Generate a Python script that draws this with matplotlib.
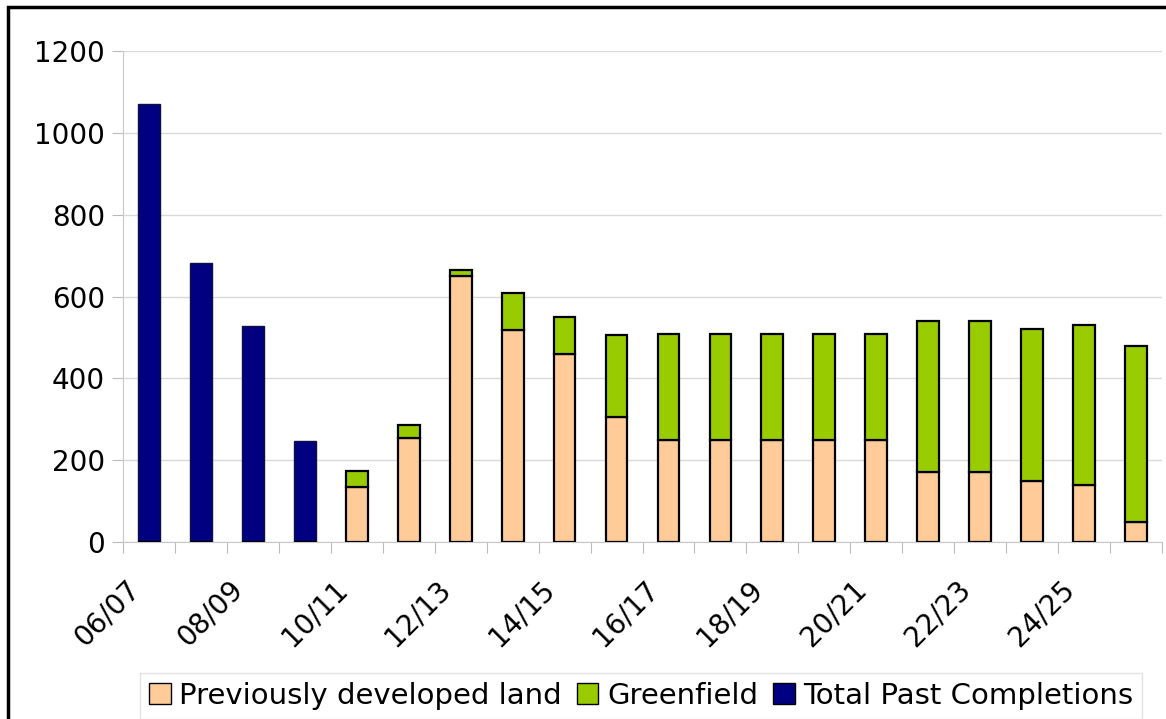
import numpy as np
import matplotlib.pyplot as plt
import matplotlib.transforms as mtransforms
from matplotlib.patches import Patch, Rectangle

# financial years shown on the chart
years = ["06/07", "07/08", "08/09", "09/10", "10/11", "11/12", "12/13", "13/14",
         "14/15", "15/16", "16/17", "17/18", "18/19", "19/20", "20/21", "21/22",
         "22/23", "23/24", "24/25", "25/26"]

# past completions (first four years only)
past_completions = [1070, 682, 528, 246, 0, 0, 0, 0, 0, 0,
                    0, 0, 0, 0, 0, 0, 0, 0, 0, 0]

# projected supply split by land type
previously_developed = [0, 0, 0, 0, 135, 255, 650, 518, 459, 306,
                        250, 250, 250, 250, 250, 170, 170, 150, 140, 50]
greenfield = [0, 0, 0, 0, 39, 32, 15, 90, 90, 199,
              258, 258, 259, 259, 259, 370, 370, 370, 390, 430]

col_pdl = "#FFCC99"
col_green = "#99CC00"
col_navy = "#000080"


def draw_chart():
    fig = plt.figure(figsize=(11.66, 7.19), dpi=100)
    ax = fig.add_axes([123 / 1166, 1 - 542 / 719, (1162 - 123) / 1166, (542 - 51) / 719])

    x = np.arange(len(years))
    w = 0.42
    ax.bar(x, past_completions, width=w, color=col_navy, edgecolor="#101040", linewidth=1, zorder=3)
    ax.bar(x, previously_developed, width=w, color=col_pdl, edgecolor="black", linewidth=1.6, zorder=3)
    ax.bar(x, greenfield, width=w, bottom=previously_developed, color=col_green,
           edgecolor="black", linewidth=1.6, zorder=3)

    ax.set_xlim(-0.5, len(years) - 0.5)
    ax.set_ylim(0, 1200)
    ax.set_yticks(range(0, 1201, 200))
    ax.yaxis.grid(True, color="#d9d9d9", linewidth=1, zorder=0)

    # boundary ticks between years, labels on every other year
    ax.set_xticks(np.arange(-0.5, len(years), 1.0))
    ax.set_xticklabels([])
    ax.set_xticks(x[::2], minor=True)
    ax.set_xticklabels(years[::2], minor=True, rotation=45, ha="right",
                       rotation_mode="anchor", fontsize=20)
    ax.tick_params(axis="x", which="minor", length=0, pad=24)
    ax.tick_params(axis="x", which="major", length=8, color="#bbbbbb")
    ax.tick_params(axis="y", length=8, color="#bbbbbb", labelsize=20, pad=5)

    # nudge the slanted year labels to the left
    shift = mtransforms.ScaledTranslation(-24 / 100, 0, fig.dpi_scale_trans)
    for lbl in ax.get_xticklabels(minor=True):
        lbl.set_transform(lbl.get_transform() + shift)

    for side in ["top", "right"]:
        ax.spines[side].set_visible(False)
    ax.spines["left"].set_color("#c8c8c8")
    ax.spines["bottom"].set_color("#c8c8c8")

    handles = [
        Patch(facecolor=col_pdl, edgecolor="black", linewidth=1, label="Previously developed land"),
        Patch(facecolor=col_green, edgecolor="black", linewidth=1, label="Greenfield"),
        Patch(facecolor=col_navy, edgecolor="black", linewidth=1, label="Total Past Completions"),
    ]
    leg = fig.legend(handles=handles, loc="upper left", bbox_to_anchor=(140 / 1166, 1 - 673 / 719),
                     ncol=3, fontsize=21, frameon=True, fancybox=False, borderaxespad=0,
                     handlelength=0.75, handleheight=0.75, handletextpad=0.3, columnspacing=0.5,
                     borderpad=0.3)
    leg.get_frame().set_edgecolor("#dddddd")
    leg.get_frame().set_linewidth(1)

    # outer frame around the figure
    fig.patches.append(Rectangle((8 / 1166, -0.05), 1.1, 1 - 7 / 719 + 0.05, transform=fig.transFigure,
                                 fill=False, edgecolor="black", linewidth=2.5))

    fig.savefig("out.png", dpi=100)


if __name__ == "__main__":
    draw_chart()
